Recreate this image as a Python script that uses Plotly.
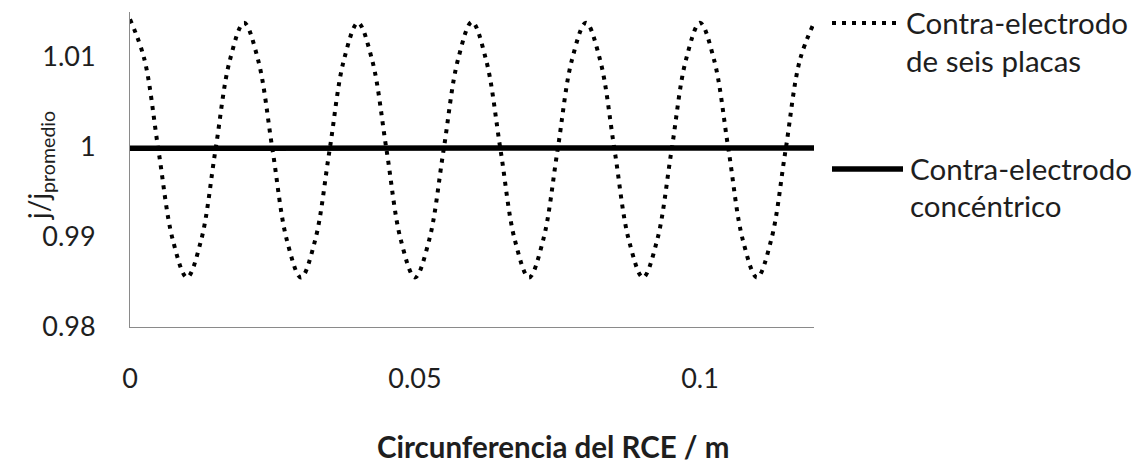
import plotly.graph_objects as go

# ---- data ----
x_seis = [0.0, 0.0025, 0.005, 0.0075, 0.01, 0.0125, 0.015, 0.0175,
          0.02, 0.0225, 0.025, 0.0275, 0.03, 0.0325, 0.035, 0.0375,
          0.04, 0.0425, 0.045, 0.0475, 0.05, 0.0525, 0.055, 0.0575,
          0.06, 0.0625, 0.065, 0.0675, 0.07, 0.0725, 0.075, 0.0775,
          0.08, 0.0825, 0.085, 0.0875, 0.09, 0.0925, 0.095, 0.0975,
          0.10, 0.1025, 0.105, 0.1075, 0.11, 0.1125, 0.115, 0.1175, 0.12]
y_seis = [1.0142, 1.0098, 0.9996, 0.9897, 0.9855, 0.9897, 0.9997, 1.0096,
          1.0138, 1.0096, 0.9997, 0.9897, 0.9855, 0.9897, 0.9996, 1.0096,
          1.0138, 1.0096, 0.9997, 0.9897, 0.9855, 0.9897, 0.9996, 1.0096,
          1.0139, 1.0096, 0.9997, 0.9897, 0.9855, 0.9897, 0.9996, 1.0096,
          1.0138, 1.0096, 0.9997, 0.9897, 0.9855, 0.9897, 0.9996, 1.0096,
          1.0138, 1.0096, 0.9997, 0.9897, 0.9855, 0.9897, 0.9996, 1.0096,
          1.0138]

x_conc = [0.0, 0.01, 0.02, 0.03, 0.04, 0.05, 0.06, 0.07, 0.08, 0.09, 0.10, 0.11, 0.12]
y_conc = [0.99985, 0.99985, 0.9999, 0.99985, 0.9999, 0.99985, 0.9999,
          0.99985, 0.99985, 0.9999, 0.99985, 0.99985, 0.9999]

x_tickvals = [0, 0.05, 0.1]
x_ticktext = ["0", "0.05", "0.1"]
y_tickvals = [0.98, 0.99, 1.0, 1.01]
y_ticktext = ["0.98", "0.99", "1", "1.01"]

serie_names = [["Contra-electrodo", "de seis placas"],
               ["Contra-electrodo", "concéntrico"]]
x_title = "Circunferencia del RCE / m"
y_title = "j/j<sub>promedio</sub>"

FONT = "Lato"
TXT = "#1e1e1e"

fig = go.Figure()
fig.add_trace(go.Scatter(
    x=x_seis, y=y_seis, mode="lines", line_shape="spline",
    line=dict(color="black", width=4, dash="4px,6px"),
    showlegend=False, hoverinfo="skip"))
fig.add_trace(go.Scatter(
    x=x_conc, y=y_conc, mode="lines",
    line=dict(color="black", width=5.5),
    showlegend=False, hoverinfo="skip"))

L, R, T, B = 130, 319, 12, 141
W, H = 1133, 468
PW, PH = W - L - R, H - T - B

def px(x):
    return (x - L) / PW

def py(y):
    return (H - B - y) / PH

# legend samples (manual)
fig.add_shape(type="line", xref="paper", yref="paper",
              x0=px(832), x1=px(896), y0=py(23), y1=py(23),
              line=dict(color="black", width=4, dash="4px,6px"))
fig.add_shape(type="line", xref="paper", yref="paper",
              x0=px(832), x1=px(903), y0=py(169), y1=py(169),
              line=dict(color="black", width=5.5))

legend_rows = [(px(904), py(23), serie_names[0][0]),
               (px(904), py(60), serie_names[0][1]),
               (px(908), py(168), serie_names[1][0]),
               (px(908), py(205), serie_names[1][1])]
for lx, ly, t in legend_rows:
    fig.add_annotation(x=lx, y=ly, xref="paper", yref="paper", text=t,
                       showarrow=False, xanchor="left", yanchor="middle",
                       font=dict(family=FONT, size=29.5, color=TXT))

fig.add_annotation(x=px(553), y=py(446), xref="paper", yref="paper",
                   text="<b>" + x_title + "</b>", showarrow=False,
                   xanchor="center", yanchor="middle",
                   font=dict(family=FONT, size=29.5, color=TXT))
fig.add_annotation(x=px(40), y=py(166), xref="paper", yref="paper",
                   text=y_title, textangle=-90, showarrow=False,
                   xanchor="center", yanchor="middle",
                   font=dict(family=FONT, size=28, color=TXT))

fig.update_layout(
    width=W, height=H,
    margin=dict(l=L, r=R, t=T, b=B, pad=0),
    paper_bgcolor="white", plot_bgcolor="white",
    font=dict(family=FONT, size=27, color=TXT),
)
fig.update_xaxes(range=[0, 0.12], showline=True, linecolor="#8a8a8a", linewidth=1,
                 showgrid=False, zeroline=False, ticks="",
                 tickvals=x_tickvals, ticktext=x_ticktext,
                 ticklabelstandoff=28, tickfont=dict(family=FONT, size=27, color=TXT))
fig.update_yaxes(range=[0.98, 1.015], showline=True, linecolor="#8a8a8a", linewidth=1,
                 showgrid=False, zeroline=False, ticks="",
                 tickvals=y_tickvals, ticktext=y_ticktext,
                 ticklabelstandoff=28, tickfont=dict(family=FONT, size=27, color=TXT))

fig.write_html("out.html")
